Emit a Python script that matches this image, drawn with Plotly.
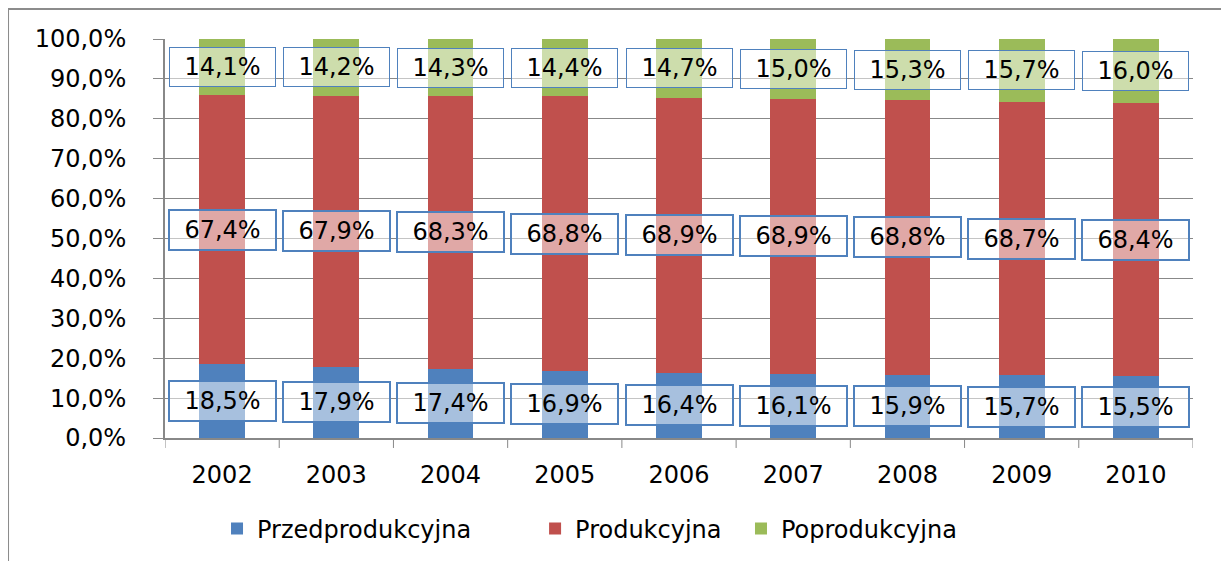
import plotly.graph_objects as go

years = ["2002", "2003", "2004", "2005", "2006", "2007", "2008", "2009", "2010"]
przed = [18.5, 17.9, 17.4, 16.9, 16.4, 16.1, 15.9, 15.7, 15.5]
prod = [67.4, 67.9, 68.3, 68.8, 68.9, 68.9, 68.8, 68.7, 68.4]
poprod = [14.1, 14.2, 14.3, 14.4, 14.7, 15.0, 15.3, 15.7, 16.0]
names = ["Przedprodukcyjna", "Produkcyjna", "Poprodukcyjna"]
colors = ["#4F81BD", "#C0504D", "#9BBB59"]
tick_vals = [0, 10, 20, 30, 40, 50, 60, 70, 80, 90, 100]
tick_text = [f"{v:.1f}%".replace(".", ",") for v in tick_vals]

FONT = "DejaVu Sans"
FS = 24
legend_ids = ["legend", "legend2", "legend3"]
legend_x = [0.0506, 0.360, 0.5603]

fig = go.Figure()
for name, vals, col, lid in zip(names, [przed, prod, poprod], colors, legend_ids):
    fig.add_trace(go.Bar(x=list(range(len(years))), y=vals, name=name,
                         marker_color=col, marker_line_width=0, legend=lid,
                         showlegend=True))

def fmt(v):
    return f"{v:.1f}%".replace(".", ",")

ann = []
for i, y in enumerate(years):
    tot = przed[i] + prod[i] + poprod[i]
    a = przed[i] / tot * 100
    b = prod[i] / tot * 100
    c = poprod[i] / tot * 100
    specs = [(a / 2, przed[i], 2), (a + b / 2, prod[i], 2),
             (a + b + c / 2, poprod[i], 1)]
    for ypos, v, bw in specs:
        ann.append(dict(x=i, y=ypos, xref="x", yref="y", text=fmt(v), showarrow=False,
                        font=dict(family=FONT, size=FS, color="black"),
                        bgcolor="rgba(255,255,255,0.5)", bordercolor="#4F81BD",
                        borderwidth=bw, borderpad=1, width=103, height=36,
                        xanchor="center", yanchor="middle"))

legends = {}
for lid, lx in zip(legend_ids, legend_x):
    legends[lid] = dict(orientation="h", x=lx, xanchor="left", y=-0.228,
                        yanchor="middle", font=dict(family=FONT, size=FS),
                        bgcolor="rgba(0,0,0,0)")

fig.update_layout(
    width=1229, height=561,
    margin=dict(l=157, r=44, t=31, b=131),
    barmode="stack", barnorm="percent", bargap=0.6,
    plot_bgcolor="white", paper_bgcolor="white",
    font=dict(family=FONT, size=FS, color="black"),
    showlegend=True,
    annotations=ann,
    xaxis=dict(range=[-0.5, len(years) - 0.5], tickvals=list(range(len(years))),
               ticktext=years, showline=True, linecolor="#888888", linewidth=2,
               ticks="", showgrid=False, zeroline=False, tickangle=0,
               ticklabelstandoff=14,
               tickfont=dict(family=FONT, size=FS)),
    yaxis=dict(range=[0, 100], tickvals=tick_vals, ticktext=tick_text,
               showline=True, linecolor="#888888", linewidth=2,
               ticks="outside", ticklen=10, tickcolor="#888888",
               showgrid=True, gridcolor="#888888", gridwidth=1,
               zeroline=False, ticklabelstandoff=22,
               tickfont=dict(family=FONT, size=FS)),
    shapes=[dict(type="rect", xref="paper", yref="paper",
                 x0=-0.1527, x1=1.2, y0=-0.5, y1=1.075,
                 line=dict(color="#8c8c8c", width=2), fillcolor="rgba(0,0,0,0)",
                 layer="below")]
    + [dict(type="line", xref="x", yref="paper", x0=k - 0.5, x1=k - 0.5,
            y0=0, y1=-0.025, line=dict(color="#888888", width=1))
       for k in range(len(years) + 1)],
    **legends,
)
fig.write_html("out.html")
